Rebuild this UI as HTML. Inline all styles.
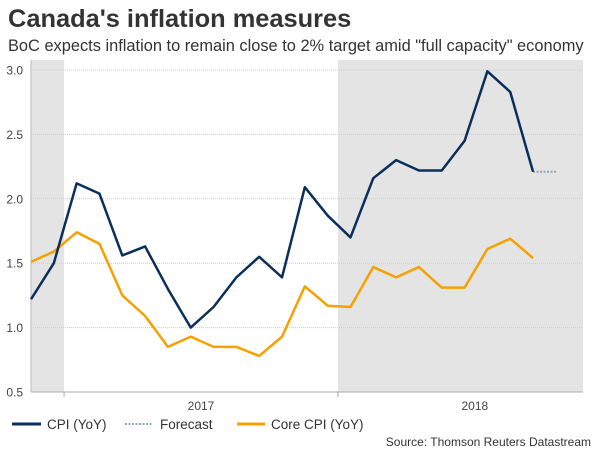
<!DOCTYPE html>
<html><head><meta charset="utf-8"><style>
body{margin:0;background:#fff;font-family:"Liberation Sans",sans-serif;}
svg text{font-family:"Liberation Sans",sans-serif;}
</style></head><body>
<svg width="600" height="450">
<text x="8" y="27" font-size="25.4" font-weight="bold" fill="#333">Canada's inflation measures</text>
<text x="8" y="51" font-size="16.4" fill="#333">BoC expects inflation to remain close to 2% target amid "full capacity" economy</text>
<g id="plot"></g>
<g>
<line x1="12" y1="424" x2="41" y2="424" stroke="#0b2f5b" stroke-width="3"/>
<text x="47" y="429" font-size="13.5" fill="#333">CPI (YoY)</text>
<line x1="125" y1="424" x2="153" y2="424" stroke="#8ea4bf" stroke-width="2" stroke-dasharray="2,1.5"/>
<text x="160" y="429" font-size="13.5" fill="#333">Forecast</text>
<line x1="237" y1="424" x2="265" y2="424" stroke="#f7a000" stroke-width="3"/>
<text x="271" y="429" font-size="13.5" fill="#333">Core CPI (YoY)</text>
</g>
<text x="591" y="446" font-size="12" fill="#333" text-anchor="end">Source: Thomson Reuters Datastream</text>
</svg>
<script>
const cpi=[1.22,1.50,2.12,2.04,1.56,1.63,1.30,1.00,1.16,1.39,1.55,1.39,2.09,1.87,1.70,2.16,2.30,2.22,2.22,2.45,2.99,2.83,2.21];
const core=[1.51,1.59,1.74,1.65,1.25,1.09,0.85,0.93,0.85,0.85,0.78,0.93,1.32,1.17,1.16,1.47,1.39,1.47,1.31,1.31,1.61,1.69,1.54];
const forecast=[2.21,2.21];
const yTicks=[0.5,1.0,1.5,2.0,2.5,3.0];
const yearLabels=["2017","2018"];
const NS="http://www.w3.org/2000/svg";
const g=document.getElementById('plot');
const X0=31,DX=22.82,XR=583;
const x=i=>X0+i*DX;
const y=v=>392-(v-0.5)*128.8;
function mk(t,a){const e=document.createElementNS(NS,t);for(const k in a)e.setAttribute(k,a[k]);g.appendChild(e);return e;}
let e;
e=mk('rect',{x:X0,y:60,width:x(1.45)-X0,height:332,fill:'#e4e4e4'});


e=mk('rect',{x:x(13.45),y:60,width:XR-x(13.45),height:332,fill:'#e4e4e4'});


yTicks.forEach(v=>{
 if(v>0.5){e=mk('line',{x1:X0,x2:XR,y1:y(v),y2:y(v),stroke:'#ccc','stroke-dasharray':'1,1'});
 
 }
 e=mk('text',{x:23,y:y(v)+4.5,'font-size':12,fill:'#444','text-anchor':'end'});e.textContent=v.toFixed(1);
 
 
});
e=mk('line',{x1:X0,x2:X0,y1:60,y2:392,stroke:'#bbb'});


e=mk('line',{x1:X0,x2:XR,y1:392,y2:392,stroke:'#aaa'});


[1.45,13.45].forEach(t=>{e=mk('line',{x1:x(t),x2:x(t),y1:392,y2:397,stroke:'#aaa'});
 
 });
yearLabels.forEach((l,i)=>{e=mk('text',{x:x(7.45+12*i),y:410,'font-size':12,fill:'#444','text-anchor':'middle'});e.textContent=l;
 
 });
const pts=(arr,o)=>arr.map((v,i)=>x(i+o)+','+y(v)).join(' ');
e=mk('polyline',{points:pts(forecast,cpi.length-1),fill:'none',stroke:'#8ea4bf','stroke-width':2,'stroke-dasharray':'2,1.5'});


e=mk('polyline',{points:pts(core,0),fill:'none',stroke:'#f7a000','stroke-width':2.5,'stroke-linejoin':'round'});


e=mk('polyline',{points:pts(cpi,0),fill:'none',stroke:'#0b2f5b','stroke-width':2.5,'stroke-linejoin':'round'});


</script>
</body></html>
